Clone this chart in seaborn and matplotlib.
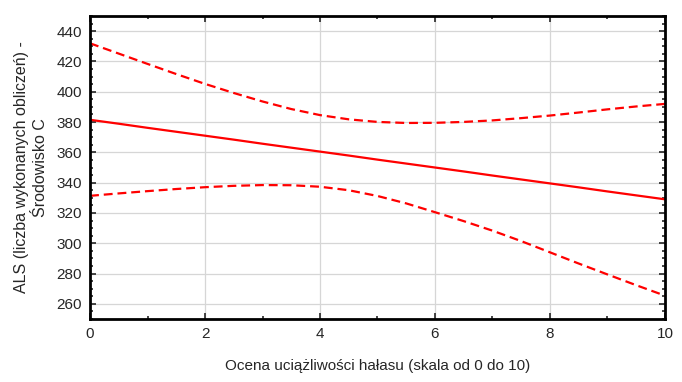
import matplotlib
matplotlib.use('Agg')

import pandas as pd
import matplotlib.pyplot as plt
from matplotlib.ticker import MultipleLocator
import seaborn as sns

# Wartości (co 0,5 punktu skali)
ocena = [0, 0.5, 1, 1.5, 2, 2.5, 3, 3.5, 4, 4.5, 5, 5.5, 6, 6.5, 7, 7.5, 8, 8.5, 9, 9.5, 10]
regresja = [381.5, 378.9, 376.2, 373.6, 371.0, 368.4, 365.7, 363.1, 360.5, 357.9, 355.2,
            352.6, 350.0, 347.4, 344.7, 342.1, 339.5, 336.9, 334.2, 331.6, 329.0]
gorna_ufnosc = [432.0, 425.2, 418.4, 411.7, 405.2, 399.2, 393.6, 388.6, 384.6, 381.8, 380.1,
                379.4, 379.5, 380.1, 381.1, 382.6, 384.3, 386.3, 388.4, 390.3, 392.0]
dolna_ufnosc = [331.3, 332.9, 334.4, 335.8, 337.0, 337.9, 338.4, 338.3, 337.3, 335.0, 331.2,
                326.3, 320.5, 314.6, 308.3, 301.4, 294.0, 286.6, 279.4, 272.3, 265.4]

x_ticks = [0, 2, 4, 6, 8, 10]
y_ticks = [260, 280, 300, 320, 340, 360, 380, 400, 420, 440]

df = pd.DataFrame({
    "x": ocena * 3,
    "y": regresja + gorna_ufnosc + dolna_ufnosc,
    "seria": ["reg"] * len(ocena) + ["gora"] * len(ocena) + ["dol"] * len(ocena),
})

sns.set_style("white")
plt.rcParams['font.family'] = ['Liberation Sans', 'DejaVu Sans']

fig, ax = plt.subplots(figsize=(6.82, 3.82), dpi=100)
fig.subplots_adjust(left=0.132, right=0.975, top=0.958, bottom=0.165)

sns.lineplot(data=df, x="x", y="y", style="seria", units="seria", estimator=None,
             color="#ff0000", linewidth=1.6, legend=False,
             dashes={"reg": "", "gora": (4, 2.2), "dol": (4, 2.2)}, ax=ax)

ax.set_xlim(0, 10)
ax.set_ylim(250, 450)
ax.set_xticks(x_ticks)
ax.set_yticks(y_ticks)
ax.xaxis.set_minor_locator(MultipleLocator(1))
ax.yaxis.set_minor_locator(MultipleLocator(5))
ax.grid(True, which="major", color="#d6d6d6", linewidth=0.9)
ax.set_axisbelow(True)

for s in ax.spines.values():
    s.set_visible(True)
    s.set_color("black")
    s.set_linewidth(2.0)

ax.tick_params(axis="both", which="major", direction="in", length=4, width=1.2,
               labelsize=11, top=True, right=True, bottom=True, left=True, pad=6)
ax.tick_params(axis="both", which="minor", direction="in", length=2.5, width=1.2,
               top=True, right=True, bottom=True, left=True)

ax.set_xlabel("Ocena uciążliwości hałasu (skala od 0 do 10)", fontsize=11, labelpad=13)
ax.set_ylabel("ALS (liczba wykonanych obliczeń) -\nŚrodowisko C", fontsize=11.5,
              labelpad=6, linespacing=1.3)

fig.savefig("out.png", dpi=100)
